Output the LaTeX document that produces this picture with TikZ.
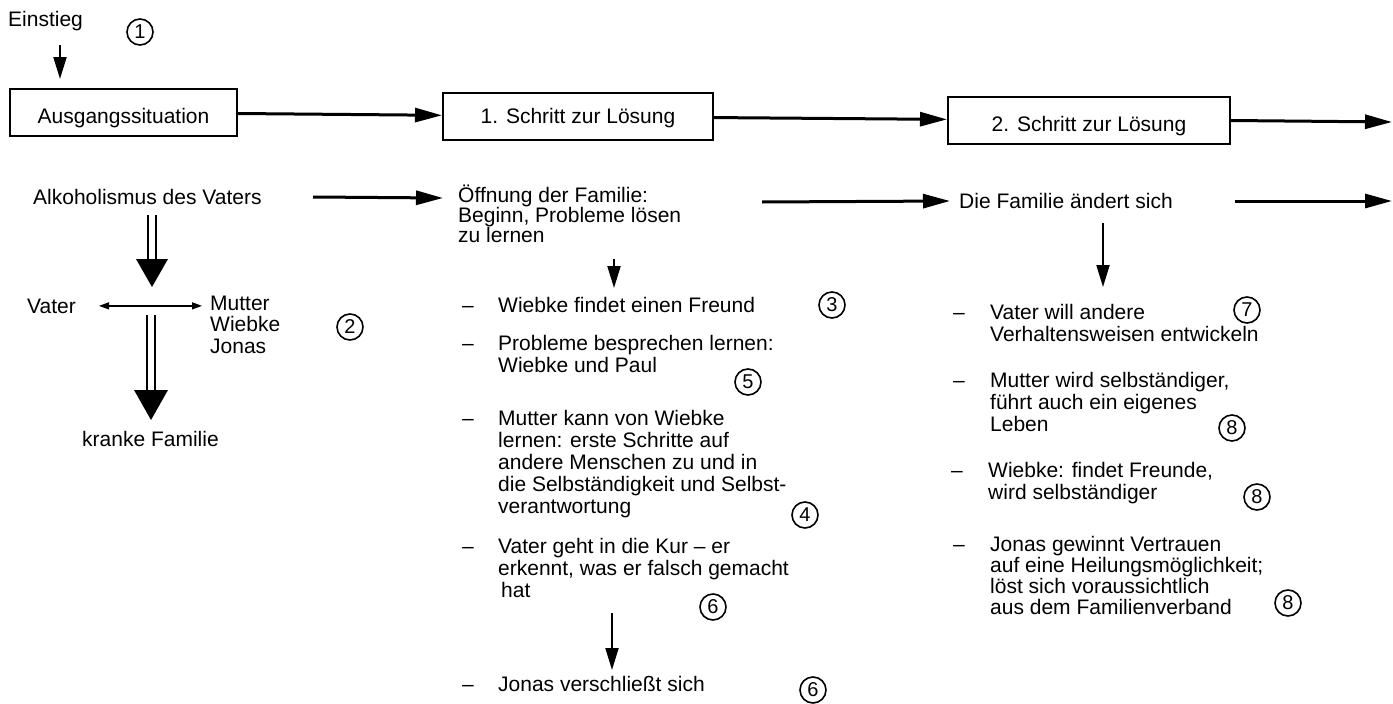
\documentclass[tikz,border=0pt]{standalone}
\usepackage{fontspec}
\setmainfont{Liberation Sans}
\usetikzlibrary{arrows.meta}
\newcommand{\ml}[1]{\vtop{\lineskiplimit=-100pt\halign{##\hfil\cr#1\crcr}}}
\newcommand{\bdash}[1][36pt]{\makebox[#1][l]{–}}
\begin{document}
\begin{tikzpicture}[x=1pt,y=-1pt,
  txt/.style={inner sep=0pt, anchor=base west, font=\fontsize{21}{22}\selectfont},
  box/.style={draw, line width=2pt, inner sep=0pt, minimum height=47pt, font=\fontsize{21}{22}\selectfont},
  num/.style={circle, draw, line width=1.6pt, minimum size=26pt, inner sep=0pt, font=\fontsize{20}{20}\selectfont},
  harrow/.style={line width=3pt, -{Triangle[length=27pt,width=14pt]}},
  varrow/.style={line width=2pt, -{Triangle[length=22pt,width=13pt]}},
  dblline/.style={double, double distance=6.5pt, line width=1.5pt},
  thinarrow/.style={line width=1.3pt, {Triangle[length=10pt,width=7pt]}-{Triangle[length=10pt,width=7pt]}}
]
\useasboundingbox[fill=white] (0,0) rectangle (1393,704);

% top row
\node[txt] (einstieg) at (8,27) {Einstieg};
\node[num] (n1) at (140,32) {1};
\node[box, text height=21pt, text depth=0pt, minimum width=227pt] (b0) at (123.5,112.5) {Ausgangssituation};
\node[box, text height=15pt, text depth=2pt, minimum width=270pt] (b1) at (578,116.5) {1. Schritt zur Lösung};
\node[box, text height=21pt, text depth=0pt, minimum width=282pt] (b2) at (1089,120.5) {2. Schritt zur Lösung};
\coordinate (e1) at (60,45);
\draw[varrow, shorten >=9pt] (e1) -- (e1 |- b0.north);
\draw[harrow] (b0) -- (b1);
\draw[harrow] (b1) -- (b2);
\coordinate (r1) at (1392,122);
\draw[harrow] (b2.east) -- (r1);

% second row
\node[txt] (alk) at (33,204) {Alkoholismus des Vaters};
\node[txt, font=\fontsize{21}{20}\selectfont] (oeff) at (458,202) {\ml{Öffnung der Familie:\cr Beginn, Probleme lösen\cr zu lernen}};
\node[txt] (fam) at (959,208) {Die Familie ändert sich};
\coordinate (a1) at (313,197);
\coordinate (a2) at (443,198);
\coordinate (a3) at (762,202);
\coordinate (a4) at (950,201);
\coordinate (a5) at (1235,201);
\coordinate (a6) at (1392,201);
\draw[harrow] (a1) -- (a2);
\draw[harrow] (a3) -- (a4);
\draw[harrow] (a5) -- (a6);

% column 1
\node[txt] (vater) at (27,313) {Vater};
\node[txt, font=\fontsize{21}{21.5}\selectfont] (mwj) at (210,310) {\ml{Mutter\cr Wiebke\cr Jonas}};
\node[num] (n2) at (350,327) {2};
\node[txt] (krank) at (82,446) {kranke Familie};
\coordinate (d1a) at (152,215);
\coordinate (d1b) at (152,287);
\draw[dblline] (d1a) -- ([yshift=27pt]d1b);
\fill (d1b) -- ++(-16,-28) -- ++(32,0) -- cycle;
\coordinate (d2a) at (151,315);
\coordinate (d2b) at (151,420);
\draw[dblline] (d2a) -- ([yshift=29pt]d2b);
\fill (d2b) -- ++(-17,-30) -- ++(34,0) -- cycle;
\draw[thinarrow, shorten <=23pt, shorten >=8pt] (vater.east) -- (vater.east -| mwj.west);

% column 2
\coordinate (c2a) at (614,259);
\coordinate (c2b) at (614,288);
\draw[varrow] (c2a) -- (c2b);
\node[txt] (w1) at (462,312.5) {\bdash Wiebke findet einen Freund};
\node[num] (n3) at (832,305) {3};
\node[txt] (w2) at (462,350.5) {\bdash\ml{Probleme besprechen lernen:\cr Wiebke und Paul}};
\node[num] (n5) at (748,382) {5};
\node[txt] (w3) at (462,425.5) {\bdash\ml{Mutter kann von Wiebke\cr lernen: erste Schritte auf\cr andere Menschen zu und in\cr die Selbständigkeit und Selbst-\cr verantwortung}};
\node[num] (n4) at (805,515) {4};
\node[txt] (w4) at (462,553.5) {\bdash\ml{Vater geht in die Kur – er\cr erkennt, was er falsch gemacht\cr \kern3pt hat}};
\node[num] (n6a) at (713,607) {6};
\coordinate (c2c) at (612,613);
\coordinate (c2d) at (612,670);
\draw[varrow] (c2c) -- (c2d);
\node[txt] (w5) at (462,691.5) {\bdash Jonas verschließt sich};
\node[num] (n6b) at (813,690) {6};

% column 3
\coordinate (c3a) at (1103,223);
\coordinate (c3b) at (1103,287);
\draw[varrow] (c3a) -- (c3b);
\node[txt] (v1) at (953,319.5) {\bdash[37pt]\ml{Vater will andere\cr Verhaltensweisen entwickeln}};
\node[num] (n7) at (1247,310) {7};
\node[txt] (v2) at (953,387.5) {\bdash[37pt]\ml{Mutter wird selbständiger,\cr führt auch ein eigenes\cr Leben}};
\node[num] (n8a) at (1232,428) {8};
\node[txt] (v3) at (951,477.5) {\bdash[37pt]\ml{Wiebke: findet Freunde,\cr wird selbständiger}};
\node[num] (n8b) at (1257,497) {8};
\node[txt, font=\fontsize{21}{21}\selectfont] (v4) at (953,551.5) {\bdash[37pt]\ml{Jonas gewinnt Vertrauen\cr auf eine Heilungsmöglichkeit;\cr löst sich voraussichtlich\cr aus dem Familienverband}};
\node[num] (n8c) at (1288,603) {8};
\end{tikzpicture}
\end{document}
